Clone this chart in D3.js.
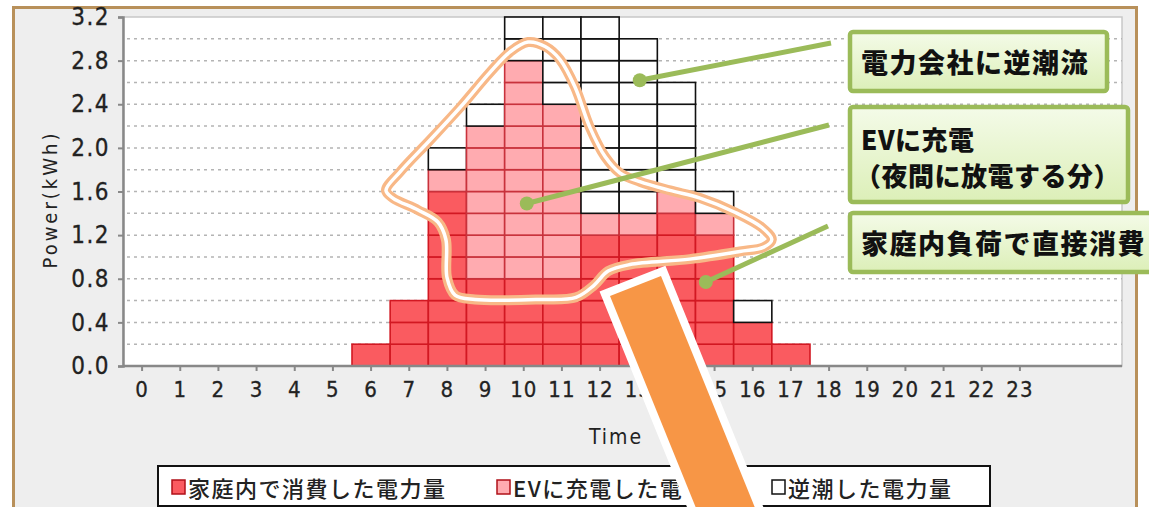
<!DOCTYPE html>
<html><head><meta charset="utf-8">
<script src="https://cdn.jsdelivr.net/npm/d3@7"></script>
<style>body{margin:0;background:#fff;} svg{display:block;}</style>
</head><body>
<svg id="c" width="1149" height="507"></svg>
<script>
// ---------- data ----------
const hours = ["0","1","2","3","4","5","6","7","8","9","10","11","12","13","14","15","16","17","18","19","20","21","22","23"];
const homeUse     = [0,0,0,0,0,0,0.2,0.6,1.6,0.8,0.8,0.8,1.2,1.2,1.4,1.2,0.4,0.2,0,0,0,0,0,0];
const evCharge    = [0,0,0,0,0,0,0,0,0.2,1.4,2.0,1.6,0.2,0.2,0.2,0.2,0,0,0,0,0,0,0,0];
const reverseFlow = [0,0,0,0,0,0,0,0,0.2,0.2,0.4,0.8,1.8,1.6,1.0,0.2,0.2,0,0,0,0,0,0,0];
const yTicks = [0,0.4,0.8,1.2,1.6,2.0,2.4,2.8,3.2];
const gridValues = [0.2,0.4,0.6,0.8,1.0,1.2,1.4,1.6,1.8,2.0,2.2,2.4,2.6,2.8,3.0];
const cellSize = 0.2;
const seriesNames = ["家庭内で消費した電力量","EVに充電した電力量","逆潮した電力量"];
const calloutTexts = [["電力会社に逆潮流"],["EVに充電","（夜間に放電する分）"],["家庭内負荷で直接消費"]];
const yTitle = "Power(kWh)";
const xTitle = "Time";

// ---------- layout ----------
const W = 1149, H = 507;
const plot = {l:123, t:17, r:1122, b:366};
const bandEnd = 1039;
const svg = d3.select("#c");
const x = d3.scaleBand().domain(hours).range([plot.l, bandEnd]).padding(0);
const xl = d3.scaleLinear().domain([0,24]).range([plot.l, bandEnd]);
const y = d3.scaleLinear().domain([0,3.2]).range([plot.b, plot.t]);

const styles = [
  {fill:"#fa5b60", stroke:"#d21822"},
  {fill:"#ffabb0", stroke:"#c8323c"},
  {fill:"#ffffff", stroke:"#111111"}
];
const series = [homeUse, evCharge, reverseFlow];

// outer frame
svg.append("rect").attr("x",0).attr("y",0).attr("width",W).attr("height",H).attr("fill","#fff");
svg.append("rect").attr("x",13.5).attr("y",7.5).attr("width",1123).attr("height",520)
  .attr("fill","#eeeeee").attr("stroke","#b8905a").attr("stroke-width",3);

// plot area
svg.append("rect").attr("x",plot.l).attr("y",plot.t).attr("width",plot.r-plot.l).attr("height",plot.b-plot.t)
  .attr("fill","#fff").attr("stroke","#c8c8c8").attr("stroke-width",1.5);

// grid
svg.append("g").selectAll("line").data(gridValues).join("line")
  .attr("x1",plot.l+4).attr("x2",plot.r).attr("y1",d=>y(d)).attr("y2",d=>y(d))
  .attr("stroke","#b4b4b4").attr("stroke-width",1.5).attr("stroke-dasharray","3,4");

// cells
const cells = [];
hours.forEach((h,i)=>{
  let base = 0;
  series.forEach((s,si)=>{
    const n = Math.round(s[i]/cellSize);
    for(let k=0;k<n;k++){
      cells.push({h, y0: base + k*cellSize, y1: base + (k+1)*cellSize, si});
    }
    base += s[i];
  });
});
svg.append("g").selectAll("rect").data(cells).join("rect")
  .attr("x",d=>x(d.h)).attr("width",x.bandwidth())
  .attr("y",d=>y(d.y1)).attr("height",d=>y(d.y0)-y(d.y1))
  .attr("fill",d=>styles[d.si].fill).attr("stroke",d=>styles[d.si].stroke).attr("stroke-width",1.6);

// axes
const tickFont = "'DejaVu Sans Condensed','DejaVu Sans',sans-serif";
const yAxis = svg.append("g").attr("transform",`translate(${plot.l},0)`)
  .call(d3.axisLeft(y).tickValues(yTicks).tickFormat(d3.format(".1f")).tickSize(5).tickPadding(8));
yAxis.select(".domain").attr("stroke","#888").attr("stroke-width",2.5);
yAxis.selectAll(".tick line").attr("stroke","#888").attr("stroke-width",2);
yAxis.selectAll("text").attr("font-family",tickFont).attr("font-size",24).attr("fill","#222")
  .attr("letter-spacing",1.5).attr("font-stretch","condensed").attr("stroke","#222").attr("stroke-width",0.3);

const xAxis = svg.append("g").attr("transform",`translate(0,${plot.b})`)
  .call(d3.axisBottom(x).tickSize(5).tickPadding(10).tickSizeOuter(0));
xAxis.select(".domain").remove();
xAxis.selectAll(".tick line").attr("stroke","#888").attr("stroke-width",2);
xAxis.selectAll("text").attr("font-family",tickFont).attr("font-size",22).attr("fill","#222")
  .attr("letter-spacing",1).attr("font-stretch","condensed").attr("stroke","#222").attr("stroke-width",0.3);
svg.append("line").attr("x1",plot.l).attr("x2",plot.r).attr("y1",plot.b).attr("y2",plot.b)
  .attr("stroke","#888").attr("stroke-width",2.5);

// titles
svg.append("text").attr("transform",`translate(57,${(plot.t+plot.b)/2+8}) rotate(-90)`)
  .attr("text-anchor","middle").attr("font-family",tickFont).attr("font-size",20).attr("fill","#222")
  .attr("letter-spacing",3).attr("font-stretch","condensed").text(yTitle);
svg.append("text").attr("x",616).attr("y",444).attr("text-anchor","middle")
  .attr("font-family",tickFont).attr("font-size",21).attr("fill","#222").attr("letter-spacing",2)
  .attr("font-stretch","condensed").text(xTitle);

// legend
const lg = svg.append("g");
lg.append("rect").attr("x",158).attr("y",466).attr("width",832).attr("height",40)
  .attr("fill","#fff").attr("stroke","#111").attr("stroke-width",2);
const legendX = [172, 497, 772];
seriesNames.forEach((n,i)=>{
  lg.append("rect").attr("x",legendX[i]).attr("y",480).attr("width",13).attr("height",14)
    .attr("fill",styles[i].fill).attr("stroke", i==2?"#111":"#b01018").attr("stroke-width",1.5);
  lg.append("text").attr("x",legendX[i]+16).attr("y",487).attr("dominant-baseline","central")
    .attr("font-family","'Noto Sans CJK JP',sans-serif").attr("font-size",22).attr("font-weight",500)
    .attr("letter-spacing",1.5).attr("fill","#222").text(n);
});

// orange outline (in data coordinates: hour, kWh)
const outlinePts = [[6.89,1.61],[7.26,1.78],[8.04,2.07],[8.83,2.37],[9.61,2.69],[10.14,2.88],[10.61,2.97],
 [11.06,2.93],[11.45,2.81],[11.84,2.56],[12.23,2.19],[12.63,1.92],[13.02,1.77],[13.54,1.69],[14.33,1.61],
 [15.12,1.54],[16.03,1.41],[16.74,1.27],[17.0,1.16],[16.79,1.09],[16.16,1.05],[14.85,0.98],[13.28,0.93],
 [12.71,0.87],[12.34,0.74],[11.87,0.63],[10.92,0.61],[9.22,0.61],[8.70,0.65],[8.49,0.81],[8.46,1.16],
 [8.25,1.32],[7.73,1.43],[7.07,1.54]];
const outline = d3.line().x(d=>xl(d[0])).y(d=>y(d[1])).curve(d3.curveCatmullRomClosed.alpha(0.5));
svg.append("path").attr("d",outline(outlinePts)).attr("fill","none").attr("stroke","#f8b887").attr("stroke-width",10);
svg.append("path").attr("d",outline(outlinePts)).attr("fill","none").attr("stroke","#fff").attr("stroke-width",3.5);

// callouts
const anchors = [[13.54,2.62],[10.58,1.49],[15.27,0.77]];
const lineEnds = [[831,43],[829,125],[828,226]];
const boxes = [{x:850,y:32,w:257,h:59},{x:850,y:107,w:278,h:95},{x:850,y:213,w:320,h:59}];
const defs = svg.append("defs");
const grad = defs.append("linearGradient").attr("id","bg").attr("x1",0).attr("y1",0).attr("x2",0).attr("y2",1);
grad.append("stop").attr("offset","0%").attr("stop-color","#f4fbe8");
grad.append("stop").attr("offset","100%").attr("stop-color","#dcefb8");
const cg = svg.append("g");
anchors.forEach((a,i)=>{
  cg.append("line").attr("x1",xl(a[0])).attr("y1",y(a[1])).attr("x2",lineEnds[i][0]).attr("y2",lineEnds[i][1])
    .attr("stroke","#9bbb59").attr("stroke-width",5);
  cg.append("circle").attr("cx",xl(a[0])).attr("cy",y(a[1])).attr("r",7).attr("fill","#9bbb59");
});
boxes.forEach((b,i)=>{
  cg.append("rect").attr("x",b.x).attr("y",b.y).attr("width",b.w).attr("height",b.h).attr("rx",3)
    .attr("fill","url(#bg)").attr("stroke","#9bbb59").attr("stroke-width",4.5);
  const lines = calloutTexts[i];
  const fs = lines.length>1 ? 26 : 27;
  const ls = lines.length>1 ? 0.5 : 1.5;
  lines.forEach((t,j)=>{
    const cy = lines.length>1 ? b.y + 31 + j*36 : b.y + b.h/2;
    const tx = (lines.length>1 && j==1) ? 855 : 861;
    cg.append("text").attr("x",tx).attr("y",cy).attr("dominant-baseline","central")
      .attr("font-family","'Noto Sans CJK JP',sans-serif").attr("font-weight",900)
      .attr("font-size",fs).attr("letter-spacing",ls).attr("fill","#111").text(t);
  });
});

// orange arrow band
const band = [[610,296],[661,276],[762,525],[711,545]];
svg.append("polygon").attr("points",band.map(p=>p.join(",")).join(" "))
  .attr("fill","#f79646").attr("stroke","#fff").attr("stroke-width",16)
  .attr("stroke-linejoin","miter").attr("paint-order","stroke");
</script>
</body></html>
